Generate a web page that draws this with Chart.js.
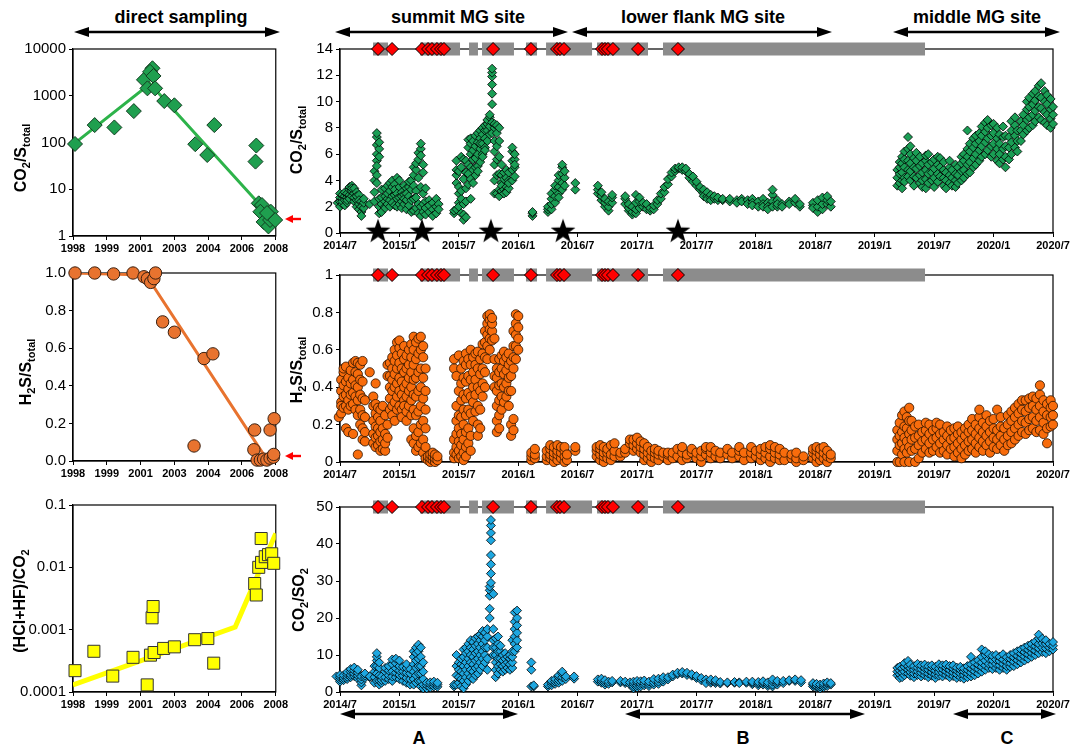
<!DOCTYPE html>
<html lang="en">
<head>
<meta charset="UTF-8">
<title>Gas ratios</title>
<script src="https://cdn.jsdelivr.net/npm/chart.js"></script>
<style>
    body { margin: 0; background: #fff; font-family: "Liberation Sans", Arial, sans-serif; color: #000; }
    #wrap { position: relative; width: 1074px; height: 749px; overflow: hidden; }
    canvas { position: absolute; }
    .head { position: absolute; font-weight: bold; font-size: 18px; transform: translate(-50%, -50%); white-space: nowrap; }
    .ytitle { position: absolute; font-weight: bold; font-size: 16px; white-space: nowrap; transform: translate(-50%, -50%) rotate(-90deg); }
    .ytitle sub { font-size: 11px; }
    svg { position: absolute; left: 0; top: 0; }
</style>
</head>
<body>
<div id="wrap">
    <canvas id="c1"></canvas><canvas id="c2"></canvas><canvas id="c3"></canvas>
    <canvas id="c4"></canvas><canvas id="c5"></canvas><canvas id="c6"></canvas>

    <div class="head" style="left:181px;top:17px">direct sampling</div>
    <div class="head" style="left:458px;top:17px">summit MG site</div>
    <div class="head" style="left:703px;top:17px">lower flank MG site</div>
    <div class="head" style="left:977px;top:17px">middle MG site</div>
    <div class="head" style="left:419px;top:738px">A</div>
    <div class="head" style="left:743px;top:738px">B</div>
    <div class="head" style="left:1007px;top:738px">C</div>

    <div class="ytitle" style="left:22px;top:158px">CO<sub>2</sub>/S<sub>total</sub></div>
    <div class="ytitle" style="left:27px;top:372px">H<sub>2</sub>S/S<sub>total</sub></div>
    <div class="ytitle" style="left:21px;top:601px">(HCl+HF)/CO<sub>2</sub></div>
    <div class="ytitle" style="left:298px;top:140px">CO<sub>2</sub>/S<sub>total</sub></div>
    <div class="ytitle" style="left:298px;top:370px">H<sub>2</sub>S/S<sub>total</sub></div>
    <div class="ytitle" style="left:300px;top:600px">CO<sub>2</sub>/SO<sub>2</sub></div>

    <svg width="1074" height="749">
        <g stroke="#000" stroke-width="2.7">
            <line x1="86" y1="32" x2="268" y2="32"/>
            <line x1="347" y1="32" x2="556" y2="32"/>
            <line x1="584" y1="32" x2="820" y2="32"/>
            <line x1="905" y1="32" x2="1048" y2="32"/>
            <line x1="352" y1="714" x2="506" y2="714"/>
            <line x1="637" y1="714" x2="853" y2="714"/>
            <line x1="965" y1="714" x2="1044" y2="714"/>
        </g>
        <g fill="#000">
            <polygon points="74,32 89,27 89,37"/><polygon points="280,32 265,27 265,37"/>
            <polygon points="335,32 350,27 350,37"/><polygon points="568,32 553,27 553,37"/>
            <polygon points="572,32 587,27 587,37"/><polygon points="832,32 817,27 817,37"/>
            <polygon points="893,32 908,27 908,37"/><polygon points="1060,32 1045,27 1045,37"/>
            <polygon points="340,714 355,709 355,719"/><polygon points="518,714 503,709 503,719"/>
            <polygon points="625,714 640,709 640,719"/><polygon points="865,714 850,709 850,719"/>
            <polygon points="953,714 968,709 968,719"/><polygon points="1056,714 1041,709 1041,719"/>
        </g>
        <g fill="#ff0000" stroke="#ff0000" stroke-width="2.4">
            <line x1="292" y1="219" x2="301" y2="219"/><polygon points="285,219 293,215 293,223" stroke="none"/>
            <line x1="292" y1="456" x2="301" y2="456"/><polygon points="285,456 293,452 293,460" stroke="none"/>
        </g>
    </svg>
</div>

<script>
    // ---- direct sampling (left column) ----
    const yearTicks = [1998, 1999.667, 2001.333, 2003, 2004.667, 2006.333, 2008];
    const yearLabels = ['1998', '1999', '2001', '2003', '2004', '2006', '2008'];

    const co2Year = [1998.1, 1999.07, 2000.04, 2001.0, 2001.5, 2001.67, 2001.92, 2001.8, 2001.97, 2002.05, 2002.5, 2003.0, 2004.03, 2004.62, 2004.97, 2007.04, 2007.0, 2007.16, 2007.32, 2007.24, 2007.4, 2007.64, 2007.72, 2007.76, 2007.97, 2007.57];
    const co2Ratio = [93, 236, 210, 470, 2190, 1440, 3870, 3250, 2650, 1440, 770, 625, 92, 54, 236, 86, 39, 5.0, 4.6, 3.3, 2.0, 1.6, 2.2, 3.3, 2.2, 3.1];
    const co2TrendYear = [1998, 2001.8, 2007.15];
    const co2TrendVal = [90, 1800, 5];

    const h2sYear = [1998.1, 1999.07, 2000.0, 2000.96, 2001.5, 2001.67, 2001.83, 2001.99, 2002.07, 2002.42, 2003.0, 2004.46, 2004.9, 2003.97, 2006.96, 2006.92, 2007.08, 2007.24, 2007.4, 2007.56, 2007.72, 2007.88, 2007.72, 2007.92, 2007.9];
    const h2sRatio = [1.0, 1.0, 0.995, 1.0, 0.98, 0.97, 0.95, 0.97, 1.0, 0.74, 0.685, 0.545, 0.57, 0.08, 0.165, 0.06, 0.005, 0.005, 0.01, 0.005, 0.015, 0.02, 0.165, 0.225, 0.035];
    const h2sTrendYear = [1998, 2001.6, 2007.55];
    const h2sTrendVal = [1.0, 0.99, 0.01];

    const halYear = [1998.1, 1999.03, 1999.96, 2000.96, 2001.66, 2001.82, 2002.0, 2001.9, 2001.95, 2002.47, 2003.0, 2004.0, 2004.65, 2004.94, 2006.96, 2007.04, 2007.16, 2007.28, 2007.3, 2007.48, 2007.64, 2007.8, 2007.9];
    const halRatio = [2.2e-4, 4.5e-4, 1.8e-4, 3.6e-4, 1.3e-4, 3.9e-4, 4.3e-4, 1.55e-3, 2.35e-3, 5.0e-4, 5.3e-4, 6.9e-4, 7.2e-4, 2.9e-4, 5.5e-3, 3.6e-3, 0.010, 0.029, 0.012, 0.0148, 0.016, 0.0165, 0.0116];
    const halTrendYear = [1998, 2006.0, 2008];
    const halTrendVal = [1.3e-4, 1.1e-3, 0.035];

    // ---- MultiGAS stations (right column), decimal years ----
    const dateTicks = [2014.5, 2015, 2015.5, 2016, 2016.5, 2017, 2017.5, 2018, 2018.5, 2019, 2019.5, 2020, 2020.5];
    const dateLabels = ['2014/7', '2015/1', '2015/7', '2016/1', '2016/7', '2017/1', '2017/7', '2018/1', '2018/7', '2019/1', '2019/7', '2020/1', '2020/7'];

    const grayStart = [2014.778, 2015.173, 2015.586, 2015.695, 2016.065, 2016.234, 2016.663, 2017.218];
    const grayEnd = [2014.904, 2015.510, 2015.661, 2015.964, 2016.158, 2016.621, 2017.092, 2019.423];
    const eventTimes = [2014.820, 2014.938, 2015.190, 2015.241, 2015.274, 2015.316, 2015.350, 2015.375, 2015.788, 2016.107, 2016.326, 2016.351, 2016.385, 2016.705, 2016.730, 2016.755, 2016.797, 2017.008, 2017.344];
    const starTimes = [2014.82, 2015.19, 2015.77, 2016.377, 2017.344];

    // [day, values measured that day]
    const co2StDaily = [
        [2014.48,[2.1,2.5,2.8,2.3]],[2014.50,[2.4,2.0,2.7,3.0]],[2014.52,[2.2,2.6,2.9,2.4]],[2014.54,[2.5,2.1,2.8,3.1]],
        [2014.56,[2.7,3.0,2.3,2.5]],[2014.58,[2.9,3.3,2.6,3.5]],[2014.60,[3.2,3.6,2.8,3.4]],[2014.62,[3.0,3.4,2.4,2.7]],
        [2014.64,[2.5,3.1,2.0,2.8]],[2014.66,[2.2,1.8,2.9,2.5]],[2014.68,[1.6,2.4,1.3,2.0]],[2014.70,[1.9,2.3,2.6]],
        [2014.75,[2.2]],[2014.79,[3.1,2.4,4.0,4.7]],[2014.81,[5.5,6.0,6.7,7.3,7.6,4.4,3.8,5.1]],[2014.83,[5.8,6.4,6.9,2.6,1.5,2.0]],
        [2014.85,[2.2,1.6,2.7,3.3]],[2014.88,[2.0,2.8,3.4,2.4,1.9]],[2014.90,[2.6,3.6,3.0,2.2]],[2014.92,[3.8,3.2,2.5,2.0]],
        [2014.94,[2.8,3.5,4.0,2.3]],[2014.96,[3.7,2.9,2.1,3.3]],[2014.98,[4.2,3.0,2.6,2.0]],[2015.00,[3.5,2.7,2.2,4.0]],
        [2015.02,[3.1,2.4,1.9,2.8]],[2015.04,[3.6,2.9,2.2,2.6]],[2015.06,[3.4,2.5,1.8,3.0]],[2015.08,[2.8,2.1,3.5,3.9]],
        [2015.10,[3.3,2.5,1.6,4.0]],[2015.12,[2.6,3.6,4.4,5.0,1.7]],[2015.14,[4.8,5.3,3.2,1.9,2.7]],[2015.16,[5.6,6.1,4.2,2.2,1.5]],
        [2015.18,[6.4,6.8,5.9,3.5,2.0,1.3]],[2015.20,[5.2,4.6,3.0,2.2,1.6]],[2015.22,[3.4,2.4,1.4,1.9]],[2015.25,[2.5,1.6,2.1]],
        [2015.28,[2.3,1.8,1.3]],[2015.31,[2.6,2.0,1.5]],[2015.33,[2.2,1.8]],
        [2015.46,[1.5,1.7]],[2015.48,[1.8,3.8,4.4,5.5,4.8]],[2015.50,[2.3,3.0,3.5,4.7,2.0]],[2015.52,[1.5,2.6,3.2,5.0,5.8]],
        [2015.54,[1.0,1.4,2.2,4.1,5.6]],[2015.56,[1.2,2.4,3.4,4.6,5.5]],[2015.58,[3.7,4.5,5.2,6.5,7.1]],[2015.60,[4.1,5.0,6.0,6.8,7.2,2.6]],
        [2015.62,[3.8,4.8,5.6,6.3,7.0]],[2015.64,[4.4,5.7,6.6,7.4,5.0]],[2015.66,[5.1,6.0,6.9,7.6,4.7]],[2015.68,[5.4,6.4,7.2,7.8,6.8]],
        [2015.70,[6.0,6.8,7.5,8.0,5.8]],[2015.72,[6.5,7.2,7.8,8.2,6.3]],[2015.74,[7.0,7.8,8.3,8.6]],[2015.76,[7.5,8.1,8.8,9.0]],
        [2015.78,[9.8,10.6,11.3,11.9,12.2,12.5,8.4,7.6]],[2015.80,[6.2,7.0,8.0,8.3,5.2,4.0,3.0]],[2015.82,[3.0,4.4,5.6,6.6,7.6,8.2]],
        [2015.84,[2.8,3.3,4.5,5.8,7.0,8.0]],[2015.86,[3.2,3.8,4.4,5.2,3.6]],[2015.88,[3.3,4.1,4.6,3.0]],[2015.90,[3.5,4.2,4.8,3.1]],
        [2015.92,[3.4,4.0,4.6,3.8]],[2015.95,[4.0,4.8,5.5,6.2,6.5]],[2015.97,[4.3,5.0,5.6,6.0,5.2]],
        [2016.12,[1.3,1.5,1.6]],[2016.25,[1.6,1.8,2.0]],[2016.28,[1.8,2.2,2.6,3.0]],[2016.31,[2.3,2.8,3.3,3.6]],
        [2016.34,[3.0,3.5,4.0,4.4,2.7]],[2016.37,[3.8,4.5,5.0,5.2,3.3]],[2016.39,[4.2,4.7,3.6]],[2016.48,[3.3,3.8]],
        [2016.67,[3.0,3.3,3.6]],[2016.70,[2.5,2.8,3.1]],[2016.73,[2.0,2.3,2.6]],[2016.76,[1.7,2.0,2.4]],[2016.79,[2.3,2.7,2.9]],
        [2016.90,[2.2,2.6,2.8]],[2016.93,[1.7,1.9,2.2]],[2016.96,[1.4,1.6,2.0]],[2016.99,[1.5,1.8,2.3,2.9]],[2017.02,[1.9,2.4,2.7]],
        [2017.05,[2.0,2.3]],[2017.08,[1.8,2.2]],[2017.11,[1.7,1.9]],[2017.14,[1.8,2.1]],[2017.17,[2.2,2.5]],[2017.20,[2.6,3.0]],
        [2017.23,[3.1,3.5]],[2017.26,[3.7,4.1]],[2017.29,[4.3,4.6]],[2017.32,[4.7,4.9]],[2017.35,[4.9,5.0]],[2017.38,[4.8,5.0]],
        [2017.41,[4.7,4.9]],[2017.44,[4.2,4.5]],[2017.47,[3.9,4.3]],[2017.50,[3.6,3.9]],[2017.53,[3.3,3.5]],[2017.56,[3.0,3.3,2.8]],
        [2017.59,[2.8,3.1,2.6]],[2017.62,[2.7,2.9,2.5]],[2017.65,[2.6,2.8]],[2017.68,[2.5,2.7]],[2017.72,[2.5,2.6]],[2017.78,[2.4,2.6]],
        [2017.84,[2.5,2.3]],[2017.88,[2.6,2.4]],[2017.93,[2.5,2.2]],[2017.97,[2.6,2.3,2.1]],[2018.02,[2.4,2.0]],[2018.06,[2.6,2.2,2.0]],
        [2018.10,[2.3,2.0,1.8]],[2018.14,[2.9,3.3,2.4,2.0]],[2018.18,[2.5,2.0,2.2]],[2018.22,[2.2,2.0]],[2018.28,[2.4,2.2]],
        [2018.33,[2.3,2.6]],[2018.37,[2.0,2.2]],[2018.48,[2.1,2.3,1.9]],[2018.52,[1.6,2.0,2.5]],[2018.56,[1.8,2.2,2.7]],
        [2018.60,[2.2,2.5,2.8]],[2018.63,[2.0,2.4]],
        [2019.19,[3.6,4.2,4.8]],[2019.21,[4.5,5.0,3.8,5.4]],[2019.23,[3.4,4.0,4.6,5.3,5.8]],[2019.25,[4.2,5.0,5.6,6.2,3.9]],
        [2019.28,[4.8,5.5,6.4,7.3,4.3]],[2019.30,[4.0,4.7,5.3,6.0,6.6]],[2019.33,[3.6,4.3,5.0,5.7]],[2019.35,[4.2,4.9,5.5,6.1]],
        [2019.38,[3.8,4.4,5.1,5.8]],[2019.40,[3.5,4.0,4.6,5.3]],[2019.43,[3.4,4.1,4.8,5.5,5.9]],[2019.45,[3.8,4.5,5.2,6.0]],
        [2019.48,[4.0,4.6,5.4]],[2019.50,[3.5,4.2,4.9,5.6]],[2019.53,[3.9,4.5,5.2,5.8]],[2019.55,[4.3,5.0,5.7]],
        [2019.58,[3.6,4.2,4.8,5.4]],[2019.60,[3.4,4.0,4.6]],[2019.63,[3.8,4.4,5.0,5.5]],[2019.65,[3.6,4.2,4.8]],
        [2019.68,[3.5,4.0,4.5,5.2]],[2019.70,[3.8,4.4,5.0]],[2019.73,[4.0,4.7,5.3,5.8]],[2019.75,[4.2,4.8,5.5,6.0]],
        [2019.78,[4.5,5.2,5.8,6.4,7.8]],[2019.80,[4.6,5.4,6.2,6.8]],[2019.83,[5.0,5.7,6.5,7.2]],[2019.85,[5.2,6.0,6.8,7.4]],
        [2019.88,[5.5,6.3,7.0,7.6]],[2019.90,[5.8,6.6,7.4,8.1]],[2019.93,[6.0,6.9,7.7,8.4]],[2019.95,[6.3,7.2,8.0,8.6]],
        [2019.98,[5.8,6.6,7.4,8.2]],[2020.00,[6.0,6.8,7.6,8.3]],[2020.03,[5.5,6.4,7.2,8.0]],[2020.05,[5.3,6.0,6.8,7.5]],
        [2020.08,[5.6,6.4,7.3,8.1]],[2020.10,[5.0,5.8,6.6,7.4]],[2020.13,[5.6,6.5,7.3]],[2020.15,[6.0,6.9,7.8,8.5]],
        [2020.18,[6.5,7.4,8.2,8.8]],[2020.20,[6.2,7.0,7.8]],[2020.23,[7.0,7.8,8.5]],[2020.25,[7.5,8.2,9.0]],
        [2020.28,[7.8,8.6,9.4,10.0]],[2020.30,[8.0,8.8,9.6,10.3]],[2020.33,[8.2,9.0,9.8,10.6]],[2020.35,[8.5,9.3,10.1,10.8]],
        [2020.38,[8.8,9.6,10.4,11.2]],[2020.40,[8.6,9.5,10.3,11.4]],[2020.43,[8.4,9.2,10.0,10.8]],[2020.45,[8.2,9.0,9.8,10.5]],
        [2020.48,[8.0,8.7,9.4,10.2]],[2020.50,[8.3,9.0,9.6]]
    ];

    const h2sStDaily = [
        [2014.47,[0.30,0.36,0.42,0.27]],[2014.49,[0.28,0.33,0.40,0.46,0.24]],[2014.51,[0.32,0.38,0.44,0.30,0.26]],
        [2014.53,[0.35,0.41,0.48,0.29,0.50]],[2014.55,[0.30,0.36,0.43,0.51,0.18]],[2014.57,[0.33,0.39,0.45,0.28,0.16]],
        [2014.59,[0.36,0.42,0.49,0.30]],[2014.61,[0.31,0.37,0.44,0.53,0.15]],[2014.63,[0.28,0.35,0.41,0.48,0.54]],
        [2014.65,[0.25,0.33,0.40,0.47,0.53,0.04]],[2014.67,[0.20,0.28,0.36,0.44,0.52]],[2014.69,[0.12,0.18,0.25,0.34,0.43,0.54]],
        [2014.71,[0.11,0.16,0.24,0.33]],[2014.75,[0.48]],[2014.78,[0.10,0.15,0.22,0.30,0.35]],[2014.80,[0.08,0.13,0.19,0.26,0.31,0.42]],
        [2014.82,[0.09,0.14,0.18,0.24,0.29]],[2014.84,[0.06,0.11,0.16,0.22,0.28]],[2014.86,[0.07,0.12,0.18,0.30]],
        [2014.88,[0.06,0.10,0.15,0.25]],[2014.90,[0.20,0.13,0.46,0.52]],[2014.92,[0.34,0.40,0.46,0.53,0.28]],
        [2014.94,[0.30,0.38,0.44,0.50,0.56,0.25]],[2014.96,[0.32,0.40,0.47,0.54,0.60,0.22]],[2014.98,[0.35,0.42,0.50,0.57,0.64,0.28]],
        [2015.00,[0.30,0.38,0.45,0.53,0.61,0.65]],[2015.02,[0.28,0.36,0.43,0.50,0.58,0.24]],[2015.04,[0.33,0.40,0.48,0.55,0.62,0.30]],
        [2015.06,[0.27,0.35,0.42,0.50,0.57,0.22]],[2015.08,[0.30,0.38,0.45,0.52,0.60]],[2015.10,[0.25,0.33,0.40,0.48,0.56,0.63,0.12]],
        [2015.12,[0.10,0.18,0.28,0.36,0.44,0.52,0.60,0.67]],[2015.14,[0.06,0.14,0.25,0.35,0.45,0.55,0.64]],
        [2015.16,[0.08,0.16,0.27,0.38,0.48,0.58,0.66]],[2015.18,[0.10,0.20,0.30,0.40,0.50,0.60,0.67]],
        [2015.20,[0.05,0.12,0.22,0.34,0.45,0.56,0.62]],[2015.22,[0.02,0.08,0.18,0.28,0.38,0.50]],[2015.24,[0.01,0.03]],
        [2015.26,[0.00,0.02,0.04]],[2015.28,[0.01,0.03,0.05]],[2015.30,[0.00,0.02,0.04]],[2015.32,[0.01,0.03]],
        [2015.46,[0.02,0.05,0.12,0.50,0.55]],[2015.48,[0.04,0.08,0.15,0.22,0.30,0.46]],[2015.50,[0.02,0.06,0.11,0.18,0.25,0.38,0.57]],
        [2015.52,[0.03,0.09,0.15,0.24,0.33,0.42,0.50]],[2015.54,[0.01,0.05,0.12,0.20,0.28,0.36,0.45,0.54]],
        [2015.56,[0.03,0.08,0.16,0.25,0.34,0.43,0.52,0.58]],[2015.58,[0.10,0.18,0.28,0.37,0.46,0.55]],
        [2015.60,[0.06,0.14,0.26,0.35,0.44,0.52,0.60]],[2015.62,[0.22,0.32,0.40,0.48,0.56]],[2015.64,[0.27,0.36,0.44,0.52,0.58]],
        [2015.66,[0.14,0.20,0.30,0.40,0.50,0.59]],[2015.68,[0.18,0.28,0.38,0.47,0.55]],[2015.70,[0.35,0.42,0.50,0.58,0.63]],
        [2015.72,[0.40,0.48,0.56,0.64,0.70]],[2015.74,[0.55,0.62,0.68,0.74,0.78]],[2015.76,[0.60,0.66,0.71,0.76,0.79]],
        [2015.78,[0.65,0.70,0.74,0.77]],[2015.80,[0.40,0.46,0.55,0.66]],[2015.82,[0.16,0.22,0.30,0.38,0.45,0.50]],
        [2015.84,[0.18,0.25,0.33,0.41,0.48,0.55]],[2015.86,[0.28,0.35,0.42,0.50,0.57]],[2015.88,[0.32,0.40,0.47,0.54,0.59]],
        [2015.90,[0.35,0.42,0.49,0.56]],[2015.92,[0.30,0.38,0.45,0.52,0.58]],[2015.94,[0.14,0.20,0.38,0.46,0.54]],
        [2015.96,[0.17,0.23,0.50,0.56,0.62,0.70]],[2015.98,[0.55,0.62,0.68,0.74,0.79]],[2016.00,[0.60,0.66,0.72,0.78]],
        [2016.11,[0.01,0.03,0.05]],[2016.14,[0.02,0.04,0.07]],[2016.24,[0.01,0.03,0.06]],[2016.27,[0.02,0.04,0.07,0.09]],
        [2016.30,[0.00,0.03,0.05,0.08]],[2016.33,[0.01,0.04,0.06,0.09]],[2016.36,[0.02,0.05,0.08]],[2016.39,[0.00,0.03,0.06,0.08]],
        [2016.41,[0.01,0.04]],[2016.48,[0.06,0.08]],[2016.66,[0.03,0.06,0.08]],[2016.69,[0.01,0.04,0.07,0.09]],
        [2016.72,[0.00,0.03,0.05,0.08]],[2016.75,[0.02,0.05,0.07]],[2016.78,[0.01,0.04,0.09]],[2016.81,[0.03,0.06,0.10]],
        [2016.86,[0.03,0.05]],[2016.90,[0.05,0.07]],[2016.94,[0.10,0.12]],[2016.97,[0.06,0.09,0.12]],[2017.00,[0.07,0.10,0.13]],
        [2017.03,[0.05,0.08,0.11]],[2017.06,[0.01,0.04,0.07,0.10]],[2017.09,[0.02,0.05,0.08]],[2017.12,[0.00,0.03,0.06]],
        [2017.15,[0.02,0.05,0.07]],[2017.18,[0.01,0.04,0.06]],[2017.22,[0.03,0.05]],[2017.26,[0.01,0.04,0.05]],[2017.30,[0.02,0.05]],
        [2017.34,[0.03,0.07]],[2017.38,[0.01,0.05,0.08]],[2017.42,[0.02,0.04]],[2017.46,[0.05,0.07]],[2017.50,[0.02,0.05]],
        [2017.54,[0.00,0.03,0.06]],[2017.58,[0.04,0.07,0.08]],[2017.62,[0.02,0.05,0.08]],[2017.66,[0.03,0.06]],[2017.70,[0.02,0.05]],
        [2017.76,[0.04,0.07]],[2017.80,[0.02,0.05]],[2017.86,[0.03,0.06,0.08]],[2017.90,[0.01,0.05]],[2017.96,[0.02,0.05,0.08]],
        [2018.00,[0.03,0.06]],[2018.04,[0.01,0.04,0.07]],[2018.08,[0.02,0.05,0.08]],[2018.12,[0.00,0.03,0.07,0.09]],
        [2018.16,[0.02,0.05,0.08]],[2018.20,[0.01,0.04,0.07]],[2018.24,[0.01,0.05]],[2018.30,[0.02,0.04]],[2018.34,[0.00,0.02,0.05]],
        [2018.40,[0.01,0.03]],[2018.48,[0.02,0.05,0.07]],[2018.51,[0.00,0.03,0.06,0.08]],[2018.54,[0.01,0.04,0.07]],
        [2018.57,[0.02,0.05,0.08]],[2018.60,[0.00,0.03,0.06]],[2018.63,[0.02,0.04]],
        [2019.19,[0.00,0.06,0.12,0.17]],[2019.21,[0.00,0.09,0.14,0.21]],[2019.23,[0.04,0.10,0.16,0.25]],
        [2019.25,[0.00,0.07,0.13,0.19,0.27]],[2019.27,[0.05,0.11,0.18,0.24]],[2019.29,[0.00,0.08,0.15,0.22,0.29]],
        [2019.31,[0.06,0.12,0.17,0.22]],[2019.34,[0.00,0.07,0.13,0.19]],[2019.37,[0.02,0.09,0.14,0.20]],[2019.40,[0.05,0.11,0.16]],
        [2019.43,[0.07,0.12,0.17,0.21]],[2019.46,[0.05,0.10,0.15,0.20]],[2019.49,[0.06,0.12,0.17]],[2019.52,[0.08,0.13,0.18,0.21]],
        [2019.55,[0.05,0.10,0.15,0.20]],[2019.58,[0.06,0.12,0.16]],[2019.61,[0.04,0.09,0.14,0.19]],[2019.64,[0.07,0.12,0.17]],
        [2019.67,[0.03,0.08,0.13,0.18]],[2019.70,[0.05,0.10,0.15,0.19]],[2019.73,[0.02,0.07,0.12,0.16]],[2019.76,[0.04,0.09,0.14,0.18]],
        [2019.79,[0.06,0.11,0.16,0.20]],[2019.82,[0.07,0.12,0.17,0.23]],[2019.85,[0.05,0.10,0.15,0.20]],
        [2019.88,[0.08,0.13,0.18,0.24,0.28]],[2019.91,[0.06,0.11,0.16,0.21]],[2019.94,[0.09,0.14,0.19,0.25]],
        [2019.97,[0.05,0.11,0.16,0.22]],[2020.00,[0.08,0.13,0.18,0.23]],[2020.03,[0.07,0.12,0.17,0.28]],[2020.06,[0.09,0.14,0.19,0.24]],
        [2020.09,[0.06,0.12,0.18]],[2020.12,[0.09,0.14,0.20,0.25]],[2020.15,[0.10,0.16,0.22,0.27]],[2020.18,[0.12,0.18,0.24,0.29]],
        [2020.21,[0.14,0.20,0.26,0.31]],[2020.24,[0.16,0.22,0.28,0.33]],[2020.27,[0.15,0.21,0.27,0.33]],[2020.30,[0.17,0.23,0.29,0.34]],
        [2020.33,[0.18,0.24,0.30,0.35]],[2020.36,[0.16,0.22,0.28,0.34]],[2020.39,[0.17,0.24,0.30,0.36,0.41]],
        [2020.42,[0.15,0.21,0.27,0.33]],[2020.45,[0.10,0.18,0.25,0.31]],[2020.48,[0.19,0.24,0.29,0.33]],[2020.50,[0.20,0.25,0.30]]
    ];

    const co2So2Daily = [
        [2014.47,[3.0,3.6,4.2]],[2014.50,[2.8,3.4,4.0,4.6]],[2014.53,[3.2,3.8,4.5]],[2014.56,[3.5,4.1,4.8,5.4]],
        [2014.59,[4.0,4.6,5.5,6.2]],[2014.62,[4.3,5.0,5.8,6.6]],[2014.65,[3.6,4.4,5.2,6.0]],[2014.68,[1.8,2.6,3.4,4.2]],
        [2014.71,[3.8,4.4,5.0]],[2014.75,[4.0,4.2]],[2014.79,[2.5,4.0,5.5,7.0]],[2014.81,[3.0,5.0,7.0,8.5,9.5,10.5]],
        [2014.83,[2.0,3.0,4.5,6.5,8.0]],[2014.85,[2.5,3.2,4.2]],[2014.88,[3.0,4.0,5.5,6.5]],[2014.91,[3.5,4.5,5.8,7.0]],
        [2014.94,[3.0,4.2,5.6,7.5,8.8]],[2014.97,[4.0,5.2,6.4,7.8,9.0]],[2015.00,[3.5,4.6,5.8,7.0,8.5]],[2015.03,[3.0,4.4,5.6,6.8]],
        [2015.06,[2.5,3.8,5.2,6.5,7.5]],[2015.09,[2.0,3.5,5.0,6.2]],[2015.12,[2.0,3.5,5.5,7.5,9.5,11.0]],
        [2015.14,[2.5,4.5,6.5,8.5,10.5,12.0]],[2015.16,[3.0,5.0,7.0,9.0,11.0,12.8]],[2015.18,[1.5,3.0,5.0,7.0,9.5,12.0]],
        [2015.20,[1.0,2.0,3.5,5.5,8.0]],[2015.23,[1.0,1.8,2.5]],[2015.26,[1.2,2.0,2.6]],[2015.29,[1.5,2.2,2.8]],[2015.32,[1.4,2.0,2.5]],
        [2015.46,[1.5,2.0]],[2015.48,[2.0,4.5,7.0,10.0]],[2015.50,[2.5,4.0,6.0,8.0]],[2015.52,[1.5,3.5,5.5,7.5,9.0]],
        [2015.54,[1.0,3.0,5.0,7.0,9.5,11.5]],[2015.56,[2.0,4.0,6.0,8.0,10.5,12.0]],[2015.58,[3.0,5.0,7.0,9.0,11.0,13.0]],
        [2015.60,[4.0,6.0,8.0,10.0,12.0,14.0]],[2015.62,[3.5,5.5,7.5,9.5,11.5,13.5]],[2015.64,[4.5,6.5,8.5,10.5,12.5,14.5]],
        [2015.66,[5.0,7.0,9.0,11.0,13.0,15.0]],[2015.68,[6.0,8.0,10.0,12.0,14.0,15.5]],[2015.70,[7.0,9.0,11.0,13.0,15.0,16.5]],
        [2015.72,[8.0,10.0,12.0,14.0,16.0]],[2015.74,[6.0,9.0,12.0,15.0,17.0]],[2015.76,[20.0,22.5,26.0,27.5,28.5]],
        [2015.77,[29.5,32.0,34.5,37.0,41.0,43.0,45.0,46.5]],[2015.79,[26.5,17.0,14.0,12.0,10.0]],
        [2015.81,[4.0,6.0,8.0,10.0,12.0,14.5]],[2015.83,[5.0,7.0,9.0,11.0,13.0,15.0]],[2015.85,[6.0,7.5,9.0,11.0,12.5]],
        [2015.87,[5.5,7.0,8.5,10.0]],[2015.89,[6.0,7.5,9.0,10.5]],[2015.91,[6.5,8.0,9.5]],[2015.93,[6.0,7.5,9.0,10.0]],
        [2015.95,[6.5,8.0,9.5,11.0,14.0]],[2015.97,[11.0,13.0,15.0,17.0,19.0,21.5]],[2015.99,[12.0,14.0,16.0,18.0,20.0,22.0]],
        [2016.11,[1.5,6.0,8.0]],[2016.13,[1.5,1.8]],[2016.25,[1.5,2.0]],[2016.28,[1.8,2.5,3.0]],[2016.31,[2.2,2.8,3.5]],
        [2016.34,[2.5,3.2,4.0,4.5]],[2016.37,[3.0,4.0,5.0,5.5]],[2016.40,[3.5,4.2]],[2016.47,[3.6,4.2]],
        [2016.67,[2.8,3.4]],[2016.70,[2.5,3.0,3.6]],[2016.73,[2.0,2.6,3.2]],[2016.76,[2.2,2.8]],[2016.79,[2.6,3.0]],
        [2016.86,[2.6,3.0]],[2016.90,[2.4,2.8]],[2016.94,[2.0,2.6]],[2016.97,[1.0,1.5,2.2,2.8]],[2017.00,[1.2,1.8,2.5,3.0]],
        [2017.03,[1.5,2.2,2.9]],[2017.06,[1.8,2.4,3.1]],[2017.10,[1.6,2.2,2.8]],[2017.14,[2.0,2.6,3.5]],[2017.18,[2.2,2.8,3.6]],
        [2017.22,[2.8,3.4,4.0]],[2017.26,[3.4,4.0]],[2017.30,[4.2,4.7]],[2017.34,[4.8,5.2]],[2017.38,[5.0,5.4]],[2017.42,[4.6,5.2]],
        [2017.46,[4.4,4.8]],[2017.50,[3.8,4.3]],[2017.54,[3.2,3.8]],[2017.58,[2.8,3.4,2.4]],[2017.62,[2.5,3.0,3.4]],
        [2017.66,[2.4,2.8,3.2]],[2017.70,[2.3,2.7]],[2017.76,[2.4,2.6]],[2017.82,[2.5,2.7]],[2017.86,[2.6,2.4]],[2017.92,[2.5,2.8]],
        [2017.97,[2.1,2.5,2.8]],[2018.02,[1.8,2.3,2.7]],[2018.06,[2.0,2.5,2.9]],[2018.10,[1.6,2.1,2.6]],[2018.14,[1.5,2.0,2.8,3.4]],
        [2018.18,[2.0,2.6,3.0]],[2018.23,[2.4,3.0]],[2018.28,[3.0,3.2]],[2018.33,[3.0,3.4]],[2018.38,[2.6,3.2]],
        [2018.48,[1.5,2.0,2.4]],[2018.51,[1.2,1.6,2.2]],[2018.54,[1.0,1.5,2.0]],[2018.57,[1.3,1.8,2.3]],[2018.60,[1.6,2.2,2.6]],
        [2018.63,[2.0,2.4]],
        [2019.19,[4.5,5.5,6.5]],[2019.21,[3.8,4.8,5.8,6.8]],[2019.23,[4.0,5.2,6.4]],[2019.25,[4.5,5.5,6.8,7.8]],
        [2019.28,[5.0,6.0,7.0,8.4]],[2019.30,[4.4,5.4,6.4,7.4]],[2019.33,[4.0,5.0,6.0,7.0]],[2019.36,[4.6,5.6,6.6,7.6]],
        [2019.39,[4.2,5.2,6.2,7.2]],[2019.42,[4.5,5.5,6.5,7.4]],[2019.45,[4.0,5.0,6.0,7.0]],[2019.48,[4.4,5.4,6.4,7.2]],
        [2019.51,[3.8,4.8,5.8,6.8]],[2019.54,[4.4,5.4,6.4,7.5]],[2019.57,[4.2,5.2,6.2,7.2]],[2019.60,[4.6,5.6,6.6,7.4]],
        [2019.63,[4.0,5.0,6.0,7.0]],[2019.66,[4.3,5.3,6.3,7.2]],[2019.69,[3.8,4.8,5.8,6.6]],[2019.72,[4.0,5.0,6.0,6.8]],
        [2019.75,[3.6,4.6,5.6,6.4]],[2019.78,[4.0,5.0,6.0,7.0]],[2019.81,[4.2,5.2,6.4,7.5,9.5]],[2019.84,[4.5,5.6,6.8,8.0]],
        [2019.87,[5.0,6.2,7.4,8.6]],[2019.90,[5.5,6.8,8.0,9.5,11.5]],[2019.93,[6.0,7.2,8.5,10.0,11.0]],[2019.96,[6.5,7.6,9.0,10.2]],
        [2019.99,[6.2,7.4,8.6,9.8]],[2020.02,[6.5,7.6,8.8,10.0]],[2020.05,[6.0,7.2,8.4,9.5]],[2020.08,[6.5,7.6,8.8,10.2]],
        [2020.11,[6.0,7.0,8.2,9.4]],[2020.14,[6.8,7.8,9.0,10.0]],[2020.17,[7.0,8.2,9.4,10.5]],[2020.20,[7.5,8.6,9.8,11.0]],
        [2020.23,[8.0,9.2,10.4,11.5]],[2020.26,[8.5,9.6,10.8,12.0]],[2020.29,[9.0,10.2,11.4,12.5]],[2020.32,[9.5,10.6,11.8,13.0]],
        [2020.35,[10.0,11.2,12.4,13.6]],[2020.38,[10.5,11.8,13.0,14.5,15.5]],[2020.41,[10.8,12.0,13.2,14.4]],
        [2020.44,[10.5,11.8,13.0,14.0]],[2020.47,[11.0,12.0,13.0]],[2020.50,[11.5,12.5,13.5]]
    ];

    Chart.defaults.font.family = '"Liberation Sans", Arial, sans-serif';

    function zip(xs, ys) { return xs.map((x, i) => ({x: x, y: ys[i]})); }
    function expand(groups) {
        const out = [];
        groups.forEach(([t, vals]) => vals.forEach(v => out.push({x: t, y: v})));
        return out;
    }
    function grayPts(top) {
        const pts = [];
        grayStart.forEach((s, i) => { pts.push({x: s, y: top}, {x: grayEnd[i], y: top}, {x: grayEnd[i], y: null}); });
        return pts;
    }
    function makeStar(r) {
        const c = document.createElement('canvas');
        c.width = c.height = 2 * r + 2;
        const g = c.getContext('2d');
        g.beginPath();
        for (let i = 0; i < 10; i++) {
            const rr = i % 2 ? r * 0.4 : r;
            const a = -Math.PI / 2 + i * Math.PI / 5;
            g.lineTo(r + 1 + rr * Math.cos(a), r + 1 + rr * Math.sin(a));
        }
        g.closePath();
        g.fillStyle = '#000';
        g.fill();
        return c;
    }
    const starImg = makeStar(13);

    const boxPlugin = {
        id: 'box',
        beforeDatasetsDraw(chart) {
            const a = chart.chartArea, ctx = chart.ctx;
            ctx.save();
            ctx.strokeStyle = '#000';
            ctx.lineWidth = 1.2;
            ctx.strokeRect(a.left, a.top, a.right - a.left, a.bottom - a.top);
            ctx.restore();
        }
    };

    function axis(type, min, max, tickVals, labels, isX, fitSize, fontSize) {
        return {
            type: type, min: min, max: max,
            afterBuildTicks: s => { s.ticks = tickVals.map(v => ({value: v})); },
            afterFit: s => { if (isX) s.height = fitSize; else s.width = fitSize; },
            grid: {drawOnChartArea: false, tickLength: 4, color: '#000', lineWidth: 1},
            border: {color: '#000', width: 1.2},
            ticks: {
                callback: (v, i) => labels[i],
                font: isX ? {size: 11, weight: 'bold'} : {size: fontSize},
                color: '#000', padding: isX ? 2 : 3, maxRotation: 0, autoSkip: false
            }
        };
    }

    function build(id, box, datasets, xAxis, yAxis) {
        const c = document.getElementById(id);
        c.width = box.w; c.height = box.h;
        c.style.left = box.left + 'px'; c.style.top = box.top + 'px';
        return new Chart(c.getContext('2d'), {
            type: 'scatter',
            data: {datasets: datasets},
            options: {
                responsive: false, animation: false,
                layout: {padding: {top: box.padT, right: box.padR, left: 0, bottom: 0}},
                plugins: {legend: {display: false}, tooltip: {enabled: false}},
                scales: {x: xAxis, y: yAxis}
            },
            plugins: [boxPlugin]
        });
    }

    // left column
    const yearAxis = h => axis('linear', 1998, 2008, yearTicks, yearLabels, true, h);

    build('c1', {left: 0, top: 30, w: 290, h: 230, padT: 19, padR: 11}, [
        {type: 'scatter', data: zip(co2Year, co2Ratio), pointStyle: 'rectRot', pointRadius: 7.5, backgroundColor: '#1f9f4f', borderColor: '#123d20', borderWidth: 1, clip: false},
        {type: 'line', data: zip(co2TrendYear, co2TrendVal), borderColor: '#2db34a', borderWidth: 3, pointRadius: 0}
    ], yearAxis(24), axis('logarithmic', 1, 10000, [1, 10, 100, 1000, 10000], ['1', '10', '100', '1000', '10000'], false, 73, 15));

    build('c2', {left: 0, top: 258, w: 290, h: 230, padT: 15, padR: 11}, [
        {type: 'scatter', data: zip(h2sYear, h2sRatio), pointStyle: 'circle', pointRadius: 6.2, backgroundColor: '#e8732f', borderColor: '#3a2010', borderWidth: 1, clip: false},
        {type: 'line', data: zip(h2sTrendYear, h2sTrendVal), borderColor: '#e8732f', borderWidth: 3, pointRadius: 0}
    ], yearAxis(27), axis('linear', 0, 1, [0, 0.2, 0.4, 0.6, 0.8, 1.0], ['0.0', '0.2', '0.4', '0.6', '0.8', '1.0'], false, 73, 15));

    build('c3', {left: 0, top: 490, w: 290, h: 225, padT: 15, padR: 11}, [
        {type: 'scatter', data: zip(halYear, halRatio), pointStyle: 'rect', pointRadius: 8.5, backgroundColor: '#ffff00', borderColor: '#333', borderWidth: 1, clip: false},
        {type: 'line', data: zip(halTrendYear, halTrendVal), borderColor: '#ffff00', borderWidth: 5, pointRadius: 0}
    ], yearAxis(23), axis('logarithmic', 0.0001, 0.1, [0.0001, 0.001, 0.01, 0.1], ['0.0001', '0.001', '0.01', '0.1'], false, 73, 15));

    // right column
    const dateAxis = h => axis('linear', 2014.5, 2020.5, dateTicks, dateLabels, true, h);
    function topMarks(top) {
        return [
            {type: 'scatter', data: eventTimes.map(t => ({x: t, y: top})), pointStyle: 'rectRot', pointRadius: 6.5, backgroundColor: '#ff0000', borderColor: '#000', borderWidth: 1, clip: false},
            {type: 'line', data: grayPts(top), borderColor: '#8c8c8c', borderWidth: 13, borderCapStyle: 'butt', pointRadius: 0, spanGaps: false, clip: false}
        ];
    }
    const rightBox = (top, h, padT) => ({left: 290, top: top, w: 784, h: h, padT: padT, padR: 21});

    build('c4', rightBox(30, 230, 19), topMarks(14).concat([
        {type: 'scatter', data: starTimes.map(t => ({x: t, y: 0.1})), pointStyle: starImg, pointRadius: 13, clip: false},
        {type: 'scatter', data: expand(co2StDaily), pointStyle: 'rectRot', pointRadius: 4.5, backgroundColor: '#1a9e55', borderColor: '#000', borderWidth: 0.8, clip: false}
    ]), dateAxis(27), axis('linear', 0, 14, [0, 2, 4, 6, 8, 10, 12, 14], ['0', '2', '4', '6', '8', '10', '12', '14'], false, 50, 15));

    build('c5', rightBox(258, 230, 17), topMarks(1).concat([
        {type: 'scatter', data: expand(h2sStDaily), pointStyle: 'circle', pointRadius: 4.6, backgroundColor: '#f86c0c', borderColor: '#2a1200', borderWidth: 0.8, clip: false}
    ]), dateAxis(26), axis('linear', 0, 1, [0, 0.2, 0.4, 0.6, 0.8, 1], ['0', '0.2', '0.4', '0.6', '0.8', '1'], false, 50, 15));

    build('c6', rightBox(490, 225, 17), topMarks(50).concat([
        {type: 'scatter', data: expand(co2So2Daily), pointStyle: 'rectRot', pointRadius: 4.5, backgroundColor: '#1ea7e0', borderColor: '#000', borderWidth: 0.8, clip: false}
    ]), dateAxis(23), axis('linear', 0, 50, [0, 10, 20, 30, 40, 50], ['0', '10', '20', '30', '40', '50'], false, 50, 15));
</script>
</body>
</html>
